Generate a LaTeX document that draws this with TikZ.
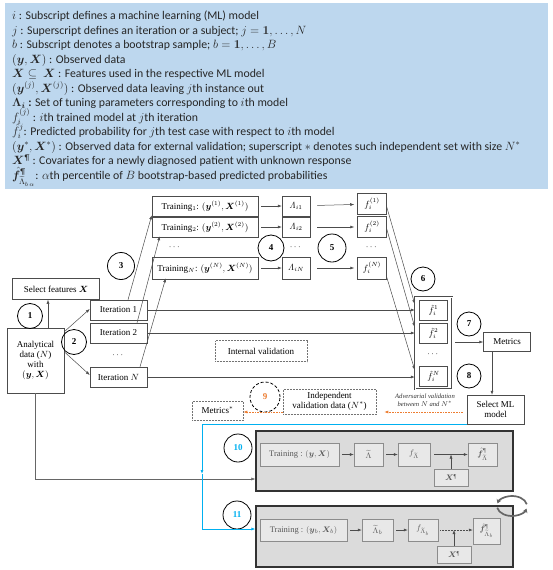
\documentclass[tikz,border=0pt]{standalone}
\usepackage{amsmath,amssymb,bm}
\usepackage[no-math]{fontspec}
\setmainfont{Liberation Serif}
\newfontfamily\calfont{Carlito}
\usetikzlibrary{arrows.meta,calc}
\definecolor{legblue}{RGB}{189,215,238}
\definecolor{orng}{RGB}{237,125,49}
\definecolor{cyn}{RGB}{0,176,240}
\newcommand{\dfont}{\fontsize{9}{10}\selectfont}
\newcommand{\ifont}{\fontsize{8.5}{9.5}\selectfont}
\newcommand{\sfontx}{\fontsize{6.6}{7.6}\selectfont}
\begin{document}
\begin{tikzpicture}[x=1pt,y=-1pt,
  box/.style={draw=black!70, line width=0.5pt, fill=white, inner sep=0pt, font=\dfont, align=center},
  dbox/.style={box, draw=black!55, densely dotted},
  num/.style={circle, draw=black, line width=0.8pt, inner sep=0pt, minimum size=25pt, font=\dfont\bfseries},
  arr/.style={draw=black!70, line width=0.5pt, -{Latex[length=4pt,width=3pt]}},
  orarr/.style={draw=orng, line width=0.6pt, densely dotted, -{Latex[length=4pt,width=3pt]}},
  blarr/.style={draw=cyn, line width=0.8pt, -{Latex[length=4pt,width=3pt]}},
  leg/.style={anchor=base west, inner sep=0pt, font=\calfont\fontsize{11.8}{13}\selectfont, text=black!85},
  inb/.style={draw=black!45, line width=0.5pt, fill=black!9, inner sep=0pt, font=\ifont, text=black!65, align=center},
  bigbox/.style={draw=black!80, line width=1.1pt, fill=black!14},
  dots/.style={font=\dfont, inner sep=0pt}
]
\useasboundingbox (0,0) rectangle (553,570);
% legend
\node[fill=legblue, minimum width=543pt, minimum height=186pt, inner sep=0pt] (legend) at (276.5,96) {};
\node[leg] (l0) at (12,19.5) {$i$ : Subscript defines a machine learning (ML) model};
\node[leg] (l1) at (12,34) {$j$ : Superscript defines an iteration or a subject; $j=\mathbf{1},\ldots,N$};
\node[leg] (l2) at (12,48.5) {$b$ : Subscript denotes a bootstrap sample; $b=\mathbf{1},\ldots,B$};
\node[leg] (l3) at (12,63) {$(\bm y,\bm X)$ : Observed data};
\node[leg] (l4) at (12,77.5) {$\bm X\subseteq\ \bm X$ : Features used in the respective ML model};
\node[leg] (l5) at (12,92) {$(\bm y^{(j)},\bm X^{(j)})$ : Observed data leaving $j$th instance out};
\node[leg] (l6) at (12,106.5) {$\bm\Lambda_{\bm i}$\textbf{ : }Set of tuning parameters corresponding to $i$th model};
\node[leg] (l7) at (12,121) {$f_i^{(j)}$ : $i$th trained model at $j$th iteration};
\node[leg] (l8) at (12,135.5) {$\hat f_i^{j}$: Predicted probability for $j$th test case with respect to $i$th model};
\node[leg] (l9) at (12,150) {$(\bm y^*,\bm X^*)$ : Observed data for external validation; superscript $*$ denotes such independent set with size $N^*$};
\node[leg] (l10) at (12,164.5) {$\bm X^{\text{\P}}$ : Covariates for a newly diagnosed patient with unknown response};
\node[leg] (l11) at (12,179) {$\hat{\bm f}^{\text{\P}}_{\widetilde\Lambda_{b\,\alpha}}$: $\alpha$th percentile of $B$ bootstrap-based predicted probabilities};

% training row
\node[box, minimum width=106pt, minimum height=20pt] (t1) at (205,206) {Training$_1$: $(\bm y^{(1)},\bm X^{(1)})$};
\node[box, minimum width=106pt, minimum height=20pt] (t2) at (205,227) {Training$_2$: $(\bm y^{(2)},\bm X^{(2)})$};
\node[dots] (td) at (175,247) {$\cdots$};
\node[box, minimum width=106pt, minimum height=22pt] (tn) at (205,268) {Training$_N$: $(\bm y^{(N)},\bm X^{(N)})$};
\node[box, minimum width=28pt, minimum height=20pt] (a1) at (296,206) {$\mathit\Lambda_{i1}$};
\node[box, minimum width=28pt, minimum height=20pt] (a2) at (296,227) {$\mathit\Lambda_{i2}$};
\node[dots] (ad) at (296,247) {$\cdots$};
\node[box, minimum width=28pt, minimum height=22pt] (an) at (296,268) {$\mathit\Lambda_{iN}$};
\node[box, minimum width=29pt, minimum height=21pt] (f1) at (372,204) {$f_i^{(1)}$};
\node[box, minimum width=29pt, minimum height=21pt] (f2) at (372,227) {$f_i^{(2)}$};
\node[dots] (fd) at (372,247) {$\cdots$};
\node[box, minimum width=29pt, minimum height=22pt] (fn) at (372,268) {$f_i^{(N)}$};
\node[num, minimum size=26pt] (c4) at (271,248) {4};
\node[num, minimum size=28pt] (c5) at (332,248) {5};
\foreach \r in {1,2,n}{
  \draw[arr, shorten <=3pt] (t\r) -- (a\r);
  \draw[arr, shorten <=7pt, shorten >=3pt] (a\r) -- (f\r);
}

% left part
\node[box, minimum width=87pt, minimum height=21pt] (sel) at (56,289) {Select features $\bm X$};
\node[box, minimum width=57pt, minimum height=65pt] (ana) at (35.5,360.5) {Analytical\\data ($N$)\\with\\$(\bm y,\bm X)$};
\node[num] (c1) at (30,316) {1};
\node[num] (c2) at (74,342) {2};
\node[num, minimum size=27pt] (c3) at (121,266) {3};
\node[box, minimum width=57pt, minimum height=20pt] (i1) at (118.5,310) {Iteration 1};
\node[box, minimum width=57pt, minimum height=20pt] (i2) at (118.5,333) {Iteration 2};
\node[dots] (id) at (118.5,355) {$\cdots$};
\node[box, minimum width=57pt, minimum height=20pt] (in) at (118.5,377) {Iteration $N$};
\coordinate (anaTop) at (48,328);
\draw[arr] (anaTop) -- (anaTop |- sel.south);
\draw[arr] ($(ana.north east)+(0,4)$) -- ($(i1.west)+(0,-1)$);
\draw[arr] ($(ana.north east)+(0,24)$) -- ($(in.west)+(0,-2)$);
\draw[arr] ($(i1.north)+(9.5,0)$) -- ($(t1.south west)+(0,-1)$);
\draw[arr] ($(i2.north)+(18.5,0)$) -- ($(t2.south west)+(8,-1)$);
\draw[arr] ($(in.north)+(21.5,0)$) -- ($(tn.south west)+(14,-1)$);

% prediction stack
\node[draw=black!70, line width=0.5pt, double=white, double distance=0.8pt, minimum width=37pt, minimum height=92pt, inner sep=0pt] (stack) at (433.5,343) {};
\node[box, minimum width=28pt, minimum height=20pt] (h1) at (433.5,310) {$\hat f_i^{1}$};
\node[box, minimum width=28pt, minimum height=20pt] (h2) at (433.5,333) {$\hat f_i^{2}$};
\node[dots] (hd) at (433.5,354) {$\cdots$};
\node[box, minimum width=28pt, minimum height=20pt] (hn) at (433.5,376) {$\hat f_i^{N}$};
\draw[arr] (i1.east) -- (i1.east -| stack.west);
\draw[arr] (i2.east) -- (i2.east -| stack.west);
\draw[arr] (in.east) -- (in.east -| stack.west);
\draw[arr] ($(f1.east)+(0,3)$) -- ($(stack.west |- h1.center)+(0,-6)$);
\draw[arr] ($(f2.east)+(0,2)$) -- ($(stack.west |- h2.center)+(0,-6)$);
\draw[arr] ($(fn.south east)+(0,-2)$) -- ($(stack.west |- hn.center)+(0,-6)$);
\node[num, minimum size=24pt] (c6) at (423,279) {6};
\node[num, minimum size=24pt] (c7) at (469,324) {7};
\node[num, minimum size=24pt] (c8) at (469,376) {8};
\node[box, minimum width=47pt, minimum height=19pt] (met) at (507,342) {Metrics};
\node[box, minimum width=57pt, minimum height=29pt] (sml) at (495.5,409.5) {Select ML\\model};
\draw[arr, shorten <=3pt] (stack.east |- met.west) -- (met.west);
\coordinate (metb) at (492,351.5);
\draw[arr] (metb) -- (metb |- sml.north);

% validation
\node[dbox, minimum width=92pt, minimum height=21pt] (intv) at (261,351) {Internal validation};
\node[dbox, minimum width=93pt, minimum height=25pt] (ind) at (329.5,401.5) {Independent\\validation data ($N^*$)};
\node[dbox, minimum width=51pt, minimum height=19pt] (mets) at (217.5,410.5) {Metrics$^*$};
\node[circle, draw=black, densely dashed, line width=0.8pt, inner sep=0pt, minimum size=30pt, fill=white, font=\dfont\bfseries, text=orng] (c9) at (265,397) {9};
\draw[orarr] (ind.west |- 0,412) -- (mets.east |- 0,412);
\draw[orarr, shorten <=4pt, shorten >=8pt] (sml.west |- 0,412) -- (ind.east |- 0,412);
\node[font=\sfontx\itshape, align=center, inner sep=0pt, text=black!80] (adv) at (425,400) {Adversarial validation\\between $N$ and $N^*$};

% final models
\node[bigbox, minimum width=257pt, minimum height=60pt, inner sep=0pt] (b10) at (384.5,461) {};
\node[bigbox, minimum width=257pt, minimum height=61pt, inner sep=0pt] (b11) at (384.5,536.5) {};
\node[num, minimum size=28pt, text=cyn] (c10) at (238,448) {10};
\node[num, minimum size=28pt, text=cyn] (c11) at (237,515) {11};

\node[inb, minimum width=79pt, minimum height=23pt] (tr10) at (299.5,454.5) {Training : $(\bm y,\bm X)$};
\node[inb, minimum width=29pt, minimum height=23pt] (lm10) at (368.5,454.5) {$\widetilde{\Lambda}$};
\node[inb, minimum width=32pt, minimum height=23pt] (ff10) at (414,454.5) {$f_{\widetilde{\Lambda}}$};
\node[inb, minimum width=29pt, minimum height=23pt] (fh10) at (482.5,454.5) {$\hat{\bm f}^{\text{\P}}_{\widetilde\Lambda}$};
\node[inb, minimum width=34pt, minimum height=17pt] (x10) at (451,477.5) {$\bm X^{\text{\P}}$};
\draw[arr, shorten <=3pt] (tr10) -- (lm10);
\draw[arr, shorten <=3pt] (lm10) -- (ff10);
\draw[arr, shorten <=4pt] (ff10) -- (fh10);
\draw[arr] (x10.north) -- (x10.north |- ff10.east);

\node[inb, minimum width=87pt, minimum height=22pt] (tr11) at (303.5,530) {Training : $(\bm y_b,\bm X_b)$};
\node[inb, minimum width=31pt, minimum height=22pt] (lm11) at (377.5,530) {$\widetilde{\Lambda}_b$};
\node[inb, minimum width=30pt, minimum height=22pt] (ff11) at (423,530) {$f_{\widetilde{\Lambda}_b}$};
\node[inb, minimum width=27pt, minimum height=26pt] (fh11) at (486.5,531) {$\hat{\bm f}^{\text{\P}}_{\widetilde\Lambda_b}$};
\node[inb, minimum width=34pt, minimum height=17pt] (x11) at (454,554.5) {$\bm X^{\text{\P}}$};
\draw[arr, shorten <=3pt] (tr11) -- (lm11);
\draw[arr, shorten <=3pt] (lm11) -- (ff11);
\draw[arr, densely dotted, shorten <=2pt] (ff11.east) -- (fh11.west |- ff11.east);
\draw[arr] (x11.north) -- (x11.north |- ff11.east);

% connectors to final boxes
\draw[arr, draw=black!60] (ana.south) |- (b10.west |- 0,479);
\coordinate (bj) at (202,474);
\draw[blarr] (sml.south west) -| (bj);
\draw[blarr] (bj) |- (b11.west |- 0,529);

% cycle icon
\coordinate (cyc) at (512,506);
\draw[line width=1.7pt, black!60, -{Stealth[length=4pt,width=5pt]}] (cyc) ++(170:15 and 10) arc[start angle=170, end angle=15, x radius=15, y radius=10];
\draw[line width=1.7pt, black!60, -{Stealth[length=4pt,width=5pt]}] (cyc) ++(350:15 and 10) arc[start angle=350, end angle=195, x radius=15, y radius=10];
\end{tikzpicture}
\end{document}
